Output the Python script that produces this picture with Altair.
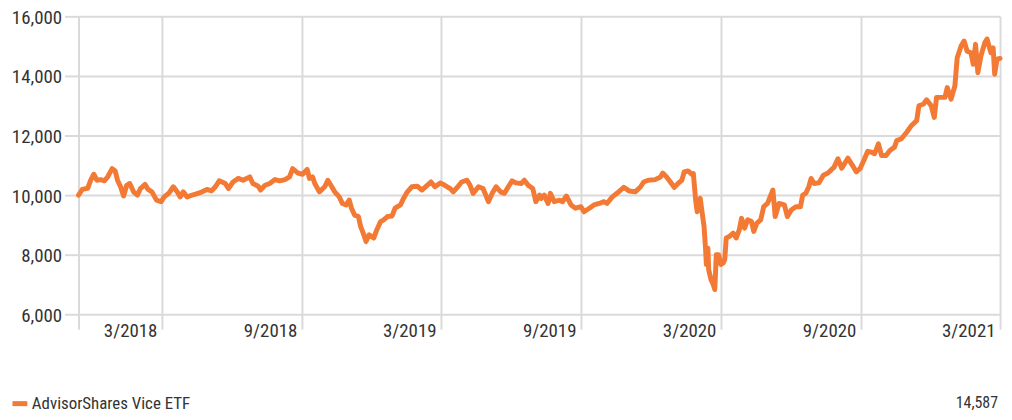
import altair as alt
import pandas as pd

SERIES = "AdvisorShares Vice ETF"
LINE_COLOR = "#f37a35"
FONT = "'Roboto Condensed', 'Liberation Sans Narrow', 'Arial Narrow', Roboto, sans-serif"

dates = [
    "2017-12-12", "2017-12-17", "2017-12-24", "2017-12-28", "2018-01-01", "2018-01-05",
    "2018-01-10", "2018-01-15", "2018-01-19", "2018-01-25", "2018-01-29", "2018-02-01",
    "2018-02-05", "2018-02-09", "2018-02-13", "2018-02-17", "2018-02-22", "2018-02-27",
    "2018-03-03", "2018-03-09", "2018-03-13", "2018-03-18", "2018-03-24", "2018-03-30",
    "2018-04-03", "2018-04-09", "2018-04-15", "2018-04-20", "2018-04-24", "2018-04-28",
    "2018-05-03", "2018-05-12", "2018-05-20", "2018-05-29", "2018-06-04", "2018-06-09",
    "2018-06-14", "2018-06-22", "2018-06-26", "2018-07-02", "2018-07-09", "2018-07-15",
    "2018-07-24", "2018-07-28", "2018-08-04", "2018-08-07", "2018-08-13", "2018-08-19",
    "2018-08-26", "2018-09-01", "2018-09-08", "2018-09-14", "2018-09-18", "2018-09-25",
    "2018-10-01", "2018-10-07", "2018-10-10", "2018-10-14", "2018-10-17", "2018-10-23",
    "2018-10-30", "2018-11-03", "2018-11-07", "2018-11-12", "2018-11-18", "2018-11-22",
    "2018-11-27", "2018-12-01", "2018-12-04", "2018-12-08", "2018-12-13", "2018-12-16",
    "2018-12-20", "2018-12-23", "2018-12-27", "2019-01-02", "2019-01-06", "2019-01-11",
    "2019-01-15", "2019-01-20", "2019-01-26", "2019-01-30", "2019-02-06", "2019-02-10",
    "2019-02-15", "2019-02-21", "2019-02-28", "2019-03-06", "2019-03-13", "2019-03-18",
    "2019-03-23", "2019-03-30", "2019-04-05", "2019-04-12", "2019-04-16", "2019-04-22",
    "2019-04-27", "2019-05-04", "2019-05-08", "2019-05-12", "2019-05-19", "2019-05-25",
    "2019-06-01", "2019-06-06", "2019-06-11", "2019-06-17", "2019-06-22", "2019-06-27",
    "2019-07-02", "2019-07-07", "2019-07-14", "2019-07-18", "2019-07-23", "2019-07-29",
    "2019-08-02", "2019-08-07", "2019-08-09", "2019-08-13", "2019-08-18", "2019-08-21",
    "2019-08-26", "2019-09-02", "2019-09-06", "2019-09-11", "2019-09-17", "2019-09-23",
    "2019-09-30", "2019-10-04", "2019-10-11", "2019-10-17", "2019-10-24", "2019-10-30",
    "2019-11-03", "2019-11-10", "2019-11-16", "2019-11-25", "2019-12-02", "2019-12-10",
    "2019-12-17", "2019-12-21", "2019-12-27", "2020-01-05", "2020-01-12", "2020-01-15",
    "2020-01-20", "2020-01-25", "2020-01-30", "2020-02-04", "2020-02-09", "2020-02-12",
    "2020-02-17", "2020-02-22", "2020-02-24", "2020-02-27", "2020-02-29", "2020-03-04",
    "2020-03-06", "2020-03-09", "2020-03-11", "2020-03-12", "2020-03-14", "2020-03-15",
    "2020-03-18", "2020-03-21", "2020-03-23", "2020-03-25", "2020-03-28", "2020-03-31",
    "2020-04-03", "2020-04-05", "2020-04-07", "2020-04-11", "2020-04-16", "2020-04-20",
    "2020-04-24", "2020-04-27", "2020-05-01", "2020-05-05", "2020-05-10", "2020-05-13",
    "2020-05-17", "2020-05-22", "2020-05-26", "2020-05-31", "2020-06-07", "2020-06-10",
    "2020-06-15", "2020-06-22", "2020-06-26", "2020-07-01", "2020-07-07", "2020-07-13",
    "2020-07-16", "2020-07-20", "2020-07-24", "2020-07-27", "2020-07-31", "2020-08-06",
    "2020-08-12", "2020-08-18", "2020-08-26", "2020-08-31", "2020-09-05", "2020-09-13",
    "2020-09-19", "2020-09-24", "2020-09-29", "2020-10-04", "2020-10-09", "2020-10-14",
    "2020-10-18", "2020-10-23", "2020-10-27", "2020-11-02", "2020-11-07", "2020-11-13",
    "2020-11-16", "2020-11-22", "2020-11-29", "2020-12-05", "2020-12-12", "2020-12-15",
    "2020-12-21", "2020-12-25", "2020-12-31", "2021-01-04", "2021-01-07", "2021-01-13",
    "2021-01-18", "2021-01-21", "2021-01-26", "2021-01-31", "2021-02-03", "2021-02-08",
    "2021-02-12", "2021-02-16", "2021-02-21", "2021-02-24", "2021-02-27", "2021-03-02",
    "2021-03-06", "2021-03-11", "2021-03-14", "2021-03-19", "2021-03-22", "2021-03-24",
    "2021-03-27", "2021-03-31",
]

values = [
    10000, 10190, 10230, 10500, 10700, 10500,
    10520, 10480, 10610, 10890, 10810, 10500,
    10280, 9970, 10330, 10390, 10110, 10000,
    10220, 10360, 10190, 10110, 9830, 9780,
    9940, 10060, 10280, 10110, 9940, 10110,
    9940, 10020, 10080, 10190, 10140, 10280,
    10480, 10390, 10220, 10440, 10560, 10500,
    10610, 10390, 10300, 10170, 10330, 10390,
    10520, 10480, 10520, 10610, 10890, 10740,
    10700, 10860, 10560, 10610, 10390, 10110,
    10280, 10500, 10330, 10110, 9940, 9720,
    9670, 9830, 9560, 9330, 9280, 8940,
    8670, 8440, 8670, 8560, 8830, 9110,
    9170, 9280, 9300, 9560, 9670, 9890,
    10110, 10280, 10300, 10170, 10330, 10440,
    10280, 10410, 10330, 10220, 10110, 10280,
    10440, 10500, 10330, 10060, 10280, 10220,
    9780, 10060, 10280, 10110, 10060, 10280,
    10480, 10410, 10390, 10500, 10330, 10220,
    9780, 10000, 9890, 10000, 9720, 10060,
    9780, 9830, 9780, 9970, 9670, 9560,
    9610, 9440, 9560, 9670, 9720, 9780,
    9720, 9940, 10060, 10260, 10140, 10110,
    10280, 10440, 10500, 10520, 10610, 10740,
    10610, 10440, 10260, 10390, 10500, 10780,
    10810, 10700, 10720, 9830, 9440, 9890,
    9500, 8940, 8170, 7670, 8220, 7500,
    7170, 7000, 6830, 8000, 8000, 7670,
    7720, 7830, 8560, 8610, 8720, 8560,
    8830, 9220, 8890, 9170, 9110, 8780,
    9060, 9170, 9610, 9720, 10170, 9280,
    9720, 9670, 9280, 9500, 9610, 9610,
    10000, 10060, 10280, 10560, 10390, 10410,
    10670, 10740, 10940, 11220, 10900, 11240,
    11000, 10780, 10890, 11170, 11470, 11440,
    11390, 11720, 11330, 11330, 11500, 11610,
    11830, 11890, 12110, 12330, 12500, 13000,
    13060, 13200, 13000, 12610, 13280, 13280,
    13280, 13610, 13220, 13670, 14610, 15000,
    15170, 14830, 14780, 14390, 15060, 14110,
    14670, 15110, 15240, 14780, 14940, 14060,
    14560, 14587,
]

y_ticks = [6000, 8000, 10000, 12000, 14000, 16000]
x_ticks = ["2017-12-12", "2018-03-31", "2018-09-30", "2019-03-31", "2019-09-30",
           "2020-03-31", "2020-09-30", "2021-03-31"]


def dt(s):
    t = pd.Timestamp(s)
    return alt.DateTime(year=t.year, month=t.month, date=t.day)


df = pd.DataFrame({"date": pd.to_datetime(dates), "value": values, "series": SERIES})
last_df = pd.DataFrame({"value": [values[-1]]})

x_enc = alt.X(
    "date:T",
    scale=alt.Scale(domain=[dt(dates[0]), dt(dates[-1])], nice=False),
    axis=alt.Axis(
        title=None,
        values=[dt(s) for s in x_ticks],
        labelExpr="month(datum.value) == 11 ? '' : timeFormat(datum.value, '%-m/%Y')",
        labelAlign="right",
        labelBaseline="top",
        labelOffset=-5,
        labelPadding=-8,
        tickSize=15,
        grid=True,
        domain=False,
        labelOverlap=False,
        labelBound=False,
        labelFlush=False,
    ),
)

line = alt.Chart(df).mark_line(strokeWidth=5, strokeJoin="round", strokeCap="round").encode(
    x=x_enc,
    y=alt.Y(
        "value:Q",
        scale=alt.Scale(domain=[6000, 16000], nice=False, zero=False),
        axis=alt.Axis(
            title=None,
            values=y_ticks,
            format=",d",
            tickSize=14,
            labelPadding=3,
            labelOffset=1,
            grid=True,
            domain=False,
        ),
    ),
    color=alt.Color(
        "series:N",
        scale=alt.Scale(range=[LINE_COLOR]),
        legend=alt.Legend(
            title=None,
            orient="none",
            legendX=-69,
            legendY=380,
            symbolType="stroke",
            symbolSize=225,
            symbolStrokeWidth=5,
            labelFontSize=17,
            labelFont=FONT,
            labelColor="#333333",
            labelOffset=2,
            padding=0,
        ),
    ),
)

end_value = alt.Chart(last_df).mark_text(
    align="right", baseline="alphabetic", fontSize=16, font=FONT, color="#333333"
).encode(
    x=alt.value(926),
    y=alt.value(394),
    text=alt.Text("value:Q", format=",d"),
)

chart = (
    alt.layer(line, end_value)
    .properties(
        width=928,
        height=300,
        autosize=alt.AutoSizeParams(type="none"),
        padding={"left": 71, "top": 7, "right": 4, "bottom": 97},
    )
    .configure(font=FONT)
    .configure_view(stroke=None)
    .configure_axis(
        labelFont=FONT,
        labelFontSize=19,
        labelColor="#333333",
        gridColor="#dadada",
        gridWidth=2,
        tickColor="#dadada",
        tickWidth=2,
    )
)

chart.save("out.html", embed_options={"renderer": "svg", "actions": False})
